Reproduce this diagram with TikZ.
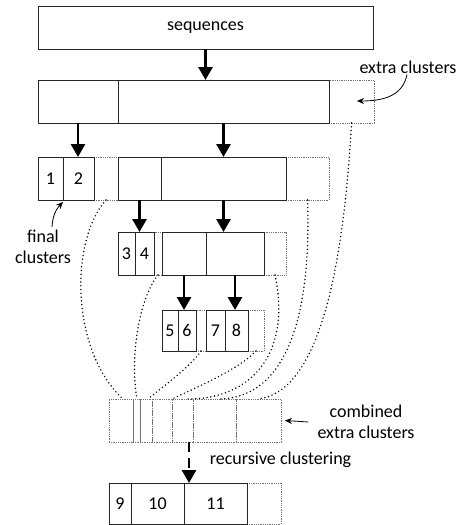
\documentclass[tikz,border=0pt]{standalone}
\usepackage{fontspec}
\setmainfont{Carlito}
\usetikzlibrary{arrows.meta}
\begin{document}
\begin{tikzpicture}[x=1pt,y=-1pt,
  font=\fontsize{18}{21}\selectfont,
  box/.style={draw=black!85, line width=0.9pt, inner sep=0pt, outer sep=0pt, anchor=north west},
  xbox/.style={draw=black!55, line width=0.8pt, dash pattern=on 0.9pt off 0.9pt, inner sep=0pt, outer sep=0pt, anchor=north west},
  bigarrow/.style={line width=2.8pt, -{Triangle[length=13pt,width=14pt]}},
  dasharrow/.style={line width=2.8pt, dash pattern=on 10pt off 6pt, -{Triangle[length=13pt,width=14pt]}},
  link/.style={line width=1.6pt, line cap=round, dash pattern=on 0pt off 3.8pt},
  note/.style={line width=0.8pt, -{Stealth[length=7pt,width=6pt]}},
  lbl/.style={inner sep=1pt, align=center}
]
\useasboundingbox (0,0) rectangle (474,525);

% ---------- extra (dotted) boxes first ----------
\node[xbox, minimum width=45pt, minimum height=43pt] (r1x) at (329,80) {};
\node[xbox, minimum width=24pt, minimum height=43pt] (r2x1) at (94,157) {};
\node[xbox, minimum width=43pt, minimum height=43pt] (r2x2) at (286,157) {};
\node[xbox, minimum width=8pt, minimum height=43pt] (r3x1) at (154,232) {};
\node[xbox, minimum width=22pt, minimum height=43pt] (r3x2) at (264,232) {};
\node[xbox, minimum width=10pt, minimum height=41pt] (r4x1) at (196,310) {};
\node[xbox, minimum width=16pt, minimum height=41pt] (r4x2) at (248,310) {};
\node[xbox, minimum width=34pt, minimum height=41pt] (r5x) at (247,483) {};

% combined extra clusters
\node[xbox, minimum width=24pt, minimum height=43pt] (cm1) at (109,399) {};
\node[xbox, minimum width=7pt, minimum height=43pt] (cm2) at (133,399) {};
\node[xbox, minimum width=12pt, minimum height=43pt] (cm3) at (140,399) {};
\node[xbox, minimum width=20pt, minimum height=43pt] (cm4) at (152,399) {};
\node[xbox, minimum width=21pt, minimum height=43pt] (cm5) at (172,399) {};
\node[xbox, minimum width=43pt, minimum height=43pt] (cm6) at (193,399) {};
\node[xbox, minimum width=45pt, minimum height=43pt] (cm7) at (236,399) {};

% ---------- solid boxes ----------
\node[box, minimum width=335pt, minimum height=43pt] (seq) at (38,6) {sequences};

\node[box, minimum width=80pt, minimum height=43pt] (r1a) at (38,80) {};
\node[box, minimum width=211pt, minimum height=43pt] (r1b) at (118,80) {};

\node[box, minimum width=25pt, minimum height=43pt] (r2a) at (38,157) {1};
\node[box, minimum width=31pt, minimum height=43pt] (r2b) at (63,157) {2};
\node[box, minimum width=43pt, minimum height=43pt] (r2c) at (118,157) {};
\node[box, minimum width=125pt, minimum height=43pt] (r2d) at (161,157) {};

\node[box, minimum width=17pt, minimum height=43pt] (r3a) at (118,232) {3};
\node[box, minimum width=19pt, minimum height=43pt] (r3b) at (135,232) {4};
\node[box, minimum width=44pt, minimum height=43pt] (r3c) at (162,232) {};
\node[box, minimum width=58pt, minimum height=43pt] (r3d) at (206,232) {};

\node[box, minimum width=16pt, minimum height=41pt] (r4a) at (162,310) {5};
\node[box, minimum width=18pt, minimum height=41pt] (r4b) at (178,310) {6};
\node[box, minimum width=19pt, minimum height=41pt] (r4c) at (206,310) {7};
\node[box, minimum width=23pt, minimum height=41pt] (r4d) at (225,310) {8};

\node[box, minimum width=22pt, minimum height=41pt] (r5a) at (109,483) {9};
\node[box, minimum width=53pt, minimum height=41pt] (r5b) at (131,483) {10};
\node[box, minimum width=63pt, minimum height=41pt] (r5c) at (184,483) {11};

% ---------- thick arrows ----------
\draw[bigarrow] (seq.south) -- (seq.south |- r1b.north);
\draw[bigarrow] (r1a.south) -- (r1a.south |- r2b.north);
\draw[bigarrow] (r1b.south) -- (r1b.south |- r2d.north);
\draw[bigarrow] (r2c.south) -- (r2c.south |- r3b.north);
\draw[bigarrow] (r2d.south) -- (r2d.south |- r3d.north);
\draw[bigarrow] (r3c.south) -- (r3c.south |- r4b.north);
\draw[bigarrow] (r3d.south) -- (r3d.south |- r4d.north);
\draw[dasharrow] ([xshift=5pt]r5c.north west |- cm5.south) -- ([xshift=5pt]r5c.north west);

% ---------- dotted links ----------
\coordinate (e1) at (123,399);
\coordinate (e2) at (137,399);
\coordinate (e3) at (148,399);
\coordinate (e4) at (172,399);
\coordinate (e5) at (188,399);
\coordinate (e6) at (218,399);
\coordinate (e7) at (258,399);
\draw[link] (r2x1.south) .. controls (70,240) and (70,350) .. (e1);
\draw[link] (r3x1.south) .. controls (138,300) and (130,360) .. (e2);
\draw[link] (r4x1.south) .. controls (190,367) and (165,385) .. (e3);
\draw[link] (r4x2.south) .. controls (238,370) and (195,388) .. (e4);
\draw[link] (r3x2.south) .. controls (292,355) and (250,399) .. (e5);
\draw[link] (r2x2.south) .. controls (312,330) and (280,399) .. (e6);
\draw[link] (r1x.south) .. controls (342,295) and (312,393) .. (e7);

% ---------- labels ----------
\node[lbl] (xc) at (408,67) {extra clusters};
\coordinate (xtip) at (357,101);
\draw[note] ([xshift=-1pt]xc.south) .. controls (403,95) and (385,101) .. (xtip);

\node[lbl] (fc) at (43,247) {final\\clusters};
\draw[note] ([xshift=9pt,yshift=2pt]fc.north) to[bend left=20] ([yshift=-2pt]r2b.south west);

\node[lbl] (ce) at (366,422) {combined\\extra clusters};
\draw[note] ([xshift=-8pt]ce.west) -- ([xshift=4pt]cm7.east);

\node[lbl] (rc) at (280.5,460) {recursive clustering};
\end{tikzpicture}
\end{document}
